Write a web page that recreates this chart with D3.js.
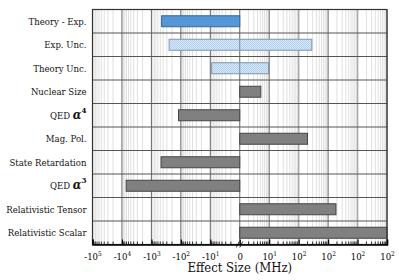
<!DOCTYPE html>
<html>
<head>
<meta charset="utf-8">
<script src="https://cdn.jsdelivr.net/npm/d3@7"></script>
<style>
  body { margin: 0; background: #fff; }
</style>
</head>
<body>
<div id="chart"></div>
<script>
// Data (MHz)
const categories = ["Theory - Exp.", "Exp. Unc.", "Theory Unc.", "Nuclear Size", "QED α4",
	"Mag. Pol.", "State Retardation", "QED α3", "Relativistic Tensor", "Relativistic Scalar"];
const lows = [-450, -250, -9, 0, -120, 0, -470, -7200, 0, 0];
const highs = [0, 280, 9.5, 5.2, 0, 200, 0, 0, 1850, 100000];
const kinds = ["diff", "unc", "unc", "term", "term", "term", "term", "term", "term", "term"];
const tickValues = [-1e5, -1e4, -1e3, -1e2, -1e1, 0, 1e1, 1e2, 1e3, 1e4, 1e5];
const tickLabels = ["-10^5", "-10^4", "-10^3", "-10^2", "-10^1", "0", "10^1", "10^2", "10^2", "10^2", "10^2"];

const width = 399;
const height = 280;
const margin = { top: 9.5, right: 12, bottom: 35.5, left: 92.5 };
const serif = "'DejaVu Serif Condensed', 'DejaVu Serif', serif";

// signed log: |v| <= 1 collapses onto 0
const toU = (v) => Math.sign(v) * Math.log10(Math.max(Math.abs(v), 1));

const xu = d3.scaleLinear().domain([-5, 5]).range([margin.left, width - margin.right]);
const x = (v) => xu(toU(v));
const y = d3.scaleBand().domain(categories).range([margin.top, height - margin.bottom]);

const svg = d3.select("#chart").append("svg")
	.attr("width", width).attr("height", height);

const serifText = (sel) => sel.style("font-family", serif).style("font-stretch", "condensed");

const defs = svg.append("defs");
const pat = defs.append("pattern").attr("id", "hatch").attr("patternUnits", "userSpaceOnUse")
	.attr("width", 2).attr("height", 2);
pat.append("rect").attr("width", 2).attr("height", 2).attr("fill", "#d5e7f8");
pat.append("rect").attr("width", 1).attr("height", 1).attr("fill", "#b3d0ee");
pat.append("rect").attr("x", 1).attr("y", 1).attr("width", 1).attr("height", 1).attr("fill", "#b3d0ee");

// minor positions (u) for every decade, both sides
const minor = [];
for (let k = 0; k < 5; k++) {
	for (let m = 2; m <= 9; m++) {
		const u = k + Math.log10(m);
		minor.push(u, -u);
	}
}
const major = d3.range(-5, 6);

const grid = svg.append("g");
grid.selectAll("line.minor").data(minor).join("line")
	.attr("class", "minor")
	.attr("x1", (d) => xu(d)).attr("x2", (d) => xu(d))
	.attr("y1", margin.top).attr("y2", height - margin.bottom)
	.attr("stroke", "#e0e0e0").attr("stroke-width", 1);
grid.selectAll("line.major").data(major).join("line")
	.attr("class", "major")
	.attr("x1", (d) => xu(d)).attr("x2", (d) => xu(d))
	.attr("y1", margin.top).attr("y2", height - margin.bottom)
	.attr("stroke", (d) => (d === 2 || d === 4 ? "#aaa" : "#666"))
	.attr("stroke-width", (d) => (d === 2 || d === 4 ? 1.6 : 1));

grid.selectAll("line.row").data(categories.slice(1)).join("line")
	.attr("class", "row")
	.attr("x1", margin.left).attr("x2", width - margin.right)
	.attr("y1", (d) => y(d)).attr("y2", (d) => y(d))
	.attr("stroke", "#555").attr("stroke-width", 1);

// bars, uncertainty bars split at zero
const segs = [];
categories.forEach((c, i) => {
	if (lows[i] < 0 && highs[i] > 0) {
		segs.push({ c, a: lows[i], b: 0, kind: kinds[i] });
		segs.push({ c, a: 0, b: highs[i], kind: kinds[i] });
	} else {
		segs.push({ c, a: lows[i], b: highs[i], kind: kinds[i] });
	}
});

const fills = { diff: "#5596d6", unc: "url(#hatch)", term: "#808080" };
const strokes = { diff: "#33679c", unc: "#7e95ad", term: "#444" };
const bh = 11;

svg.append("g").selectAll("rect").data(segs).join("rect")
	.attr("x", (d) => x(d.a))
	.attr("width", (d) => x(d.b) - x(d.a))
	.attr("y", (d) => y(d.c) + y.bandwidth() / 2 - bh / 2)
	.attr("height", bh)
	.attr("fill", (d) => fills[d.kind])
	.attr("stroke", (d) => strokes[d.kind])
	.attr("stroke-width", 1);

// frame
svg.append("rect")
	.attr("x", margin.left).attr("y", margin.top)
	.attr("width", width - margin.left - margin.right)
	.attr("height", height - margin.top - margin.bottom)
	.attr("fill", "none").attr("stroke", "#333").attr("stroke-width", 1.2);

// minor ticks on the bottom axis
const yb = height - margin.bottom;
svg.append("g").selectAll("line").data(minor).join("line")
	.attr("x1", (d) => xu(d)).attr("x2", (d) => xu(d))
	.attr("y1", yb).attr("y2", yb - 3)
	.attr("stroke", "#000").attr("stroke-width", 0.8);

const axis = d3.axisBottom(xu)
	.tickValues(tickValues.map(toU))
	.tickSize(-5)
	.tickFormat(() => "");
const gx = svg.append("g").attr("transform", `translate(0,${yb})`).call(axis);
gx.select(".domain").attr("stroke", "#000").attr("stroke-width", 1.5);
gx.selectAll(".tick line").attr("stroke", "#000").attr("stroke-width", 1.2);
gx.selectAll(".tick text").remove();

gx.selectAll(".tick").append("text")
	.call(serifText)
	.attr("y", 15)
	.attr("fill", "#000")
	.style("font-size", "9.5px")
	.attr("text-anchor", "middle")
	.each(function (d, i) {
		const [base, exp] = tickLabels[i].split("^");
		const t = d3.select(this);
		t.append("tspan").text(base);
		if (exp) t.append("tspan").attr("dy", -4).style("font-size", "6.5px").text(exp);
	});

// break mark at zero
const x0 = xu(0);
svg.append("g").selectAll("line").data([-2, 1.5]).join("line")
	.attr("x1", (d) => x0 + d - 1.5).attr("x2", (d) => x0 + d + 1.5)
	.attr("y1", yb + 3).attr("y2", yb - 3)
	.attr("stroke", "#000").attr("stroke-width", 0.8);

// category labels
svg.append("g").selectAll("text").data(categories).join("text")
	.call(serifText)
	.attr("x", margin.left - 6)
	.attr("y", (d) => y(d) + y.bandwidth() / 2 + 3.5)
	.attr("text-anchor", "end")
	.style("font-size", "9.5px")
	.attr("fill", "#111")
	.each(function (d) {
		const t = d3.select(this);
		const m = d.match(/^QED α(\d)$/);
		if (m) {
			t.append("tspan").text("QED ");
			t.append("tspan").attr("font-weight", "bold").attr("font-style", "italic")
				.style("font-size", "12.5px").text("α");
			t.append("tspan").attr("dy", -6).style("font-size", "8px").attr("font-weight", "bold").text(m[1]);
		} else {
			t.text(d);
		}
	});

svg.append("text")
	.call(serifText)
	.attr("x", (margin.left + width - margin.right) / 2)
	.attr("y", 272)
	.attr("text-anchor", "middle")
	.style("font-size", "13px")
	.attr("fill", "#111")
	.text("Effect Size (MHz)");
</script>
</body>
</html>
